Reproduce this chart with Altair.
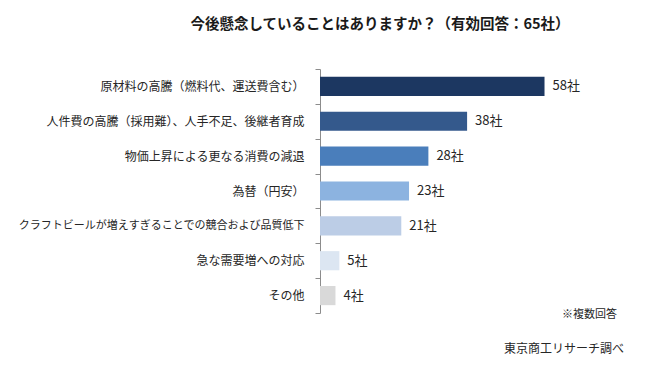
import altair as alt
import pandas as pd

categories = [
    "原材料の高騰（燃料代、運送費含む）",
    "人件費の高騰（採用難）、人手不足、後継者育成",
    "物価上昇による更なる消費の減退",
    "為替（円安）",
    "クラフトビールが増えすぎることでの競合および品質低下",
    "急な需要増への対応",
    "その他",
]
values = [58, 38, 28, 23, 21, 5, 4]
colors = ["#1c3761", "#34598c", "#4a7ebb", "#8cb3e0", "#bccde6", "#dce6f2", "#d9d9d9"]
unit = "社"
title_text = "今後懸念していることはありますか？（有効回答：65社）"
note_text = "※複数回答"
source_text = "東京商工リサーチ調べ"

FONT = "Noto Sans CJK JP"

df = pd.DataFrame({
    "cat": categories,
    "value": values,
    "color": colors,
    "label": [f"{v}{unit}" for v in values],
})

long_label = categories[4]

y_enc = alt.Y(
    "cat:N",
    sort=categories,
    title=None,
    scale=alt.Scale(paddingInner=0, paddingOuter=0),
    axis=alt.Axis(
        domain=True,
        domainColor="#8c8c8c",
        ticks=True,
        tickColor="#8c8c8c",
        tickSize=5,
        tickBand="extent",
        labelPadding=11,
        labelFont=FONT,
        labelFontSize={"condition": {"test": f"datum.value == '{long_label}'", "value": 11}, "value": 12},
        labelColor="#262626",
        labelLimit=400,
    ),
)
x_enc = alt.X("value:Q", scale=alt.Scale(domain=[0, 77.5]), axis=None)

bars = alt.Chart(df).mark_bar(height={"band": 0.55}).encode(
    y=y_enc,
    x=x_enc,
    color=alt.Color("color:N", scale=None),
)

texts = alt.Chart(df).mark_text(
    align="left", baseline="middle", dx=8, font=FONT, fontSize=13, color="#262626"
).encode(y=alt.Y("cat:N", sort=categories), x=x_enc, text="label:N")

note = alt.Chart(pd.DataFrame({"t": [note_text]})).mark_text(
    align="right", baseline="middle", font=FONT, fontSize=11, color="#262626"
).encode(x=alt.value(297), y=alt.value(246), text="t:N")

source = alt.Chart(pd.DataFrame({"t": [source_text]})).mark_text(
    align="right", baseline="middle", font=FONT, fontSize=12, color="#262626"
).encode(x=alt.value(304), y=alt.value(280), text="t:N")

chart = alt.layer(bars, texts, note, source).properties(
    width=300,
    height=244,
    autosize=alt.AutoSizeParams(type="none"),
    padding={"left": 312, "top": 61, "right": 17, "bottom": 45},
    title=alt.TitleParams(
        text=title_text,
        font=FONT,
        fontSize=14.5,
        fontWeight="bold",
        color="#1a1a1a",
        anchor="middle",
        dx=-90,
        offset=31,
    ),
).configure_view(stroke=None)

chart.save("out.html", embed_options={"renderer": "svg", "actions": False})
